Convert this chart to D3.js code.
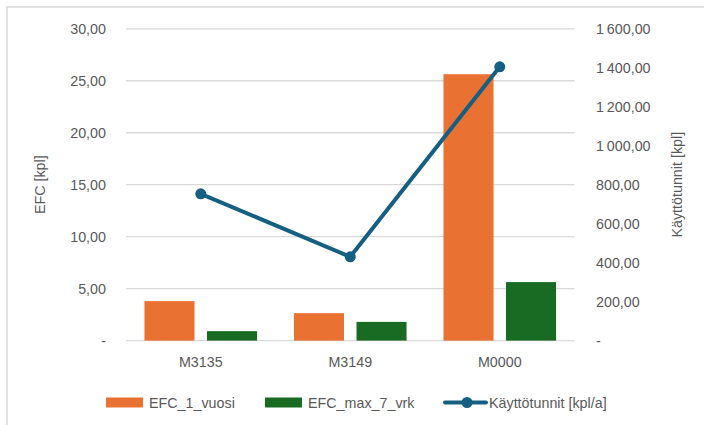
<!DOCTYPE html>
<html><head><meta charset="utf-8">
<script src="https://cdn.jsdelivr.net/npm/d3@7"></script>
<style>
html,body{margin:0;padding:0;background:#fff;}
svg{display:block;font-family:"Liberation Sans",Arial,sans-serif;}
</style></head>
<body>
<svg id="chart" width="704" height="425"></svg>
<script>
const categories = ["M3135", "M3149", "M0000"];
const efc1Vuosi = [3.80, 2.64, 25.63];
const efcMax7Vrk = [0.91, 1.80, 5.63];
const kayttotunnit = [753, 430, 1405];
const leftTicks = [0, 5, 10, 15, 20, 25, 30];
const rightTicks = [0, 200, 400, 600, 800, 1000, 1200, 1400, 1600];
const seriesNames = ["EFC_1_vuosi", "EFC_max_7_vrk", "Käyttötunnit [kpl/a]"];
const colors = ["#E97132", "#196B24", "#156082"];

const svg = d3.select("#chart");
const textColor = "#595959";
const fontSize = 14.3;
const fontFamily = '"Liberation Sans",Arial,sans-serif';
const plot = {left: 126, right: 574.5, top: 28.8, bottom: 340.6};

// outer border
svg.append("rect").attr("x", 7).attr("y", 7).attr("width", 720).attr("height", 440)
  .attr("fill", "none").attr("stroke", "#d9d9d9").attr("stroke-width", 1.5);

const x = d3.scaleBand().domain(categories).range([plot.left, plot.right]).padding(0);
const xInner = d3.scaleBand().domain([0, 1]).range([0, x.bandwidth()]).paddingInner(0.2).paddingOuter(0.295);
const yL = d3.scaleLinear().domain([0, 30]).range([plot.bottom, plot.top]);
const yR = d3.scaleLinear().domain([0, 1600]).range([plot.bottom, plot.top]);

const loc = d3.formatLocale({decimal: ",", thousands: "\u2009", grouping: [3], currency: ["", ""]});
const fmt = loc.format(",.2f");
const tickFmt = v => v === 0 ? "-" : fmt(v);

// gridlines
svg.append("g").selectAll("line").data(leftTicks).join("line")
  .attr("x1", plot.left).attr("x2", plot.right)
  .attr("y1", d => yL(d)).attr("y2", d => yL(d))
  .attr("stroke", "#d9d9d9").attr("stroke-width", 1.3);

// left axis
const axL = svg.append("g").attr("transform", `translate(${plot.left},0)`)
  .call(d3.axisLeft(yL).tickValues(leftTicks).tickFormat(tickFmt).tickSize(0).tickPadding(20));
axL.select(".domain").remove();
axL.selectAll("text").attr("fill", textColor).style("font-size", fontSize + "px").style("font-family", fontFamily);

// right axis
const axR = svg.append("g").attr("transform", `translate(${plot.right},0)`)
  .call(d3.axisRight(yR).tickValues(rightTicks).tickFormat(tickFmt).tickSize(0).tickPadding(21.5));
axR.select(".domain").remove();
axR.selectAll("text").attr("fill", textColor).style("font-size", fontSize + "px").style("font-family", fontFamily);

// x axis labels
svg.append("g").selectAll("text").data(categories).join("text")
  .attr("x", d => x(d) + x.bandwidth() / 2).attr("y", 367)
  .attr("text-anchor", "middle").attr("fill", textColor).style("font-size", fontSize + "px")
  .text(d => d);

// axis titles
const midY = (plot.top + plot.bottom) / 2;
svg.append("text").attr("transform", `translate(45,${midY}) rotate(-90)`)
  .attr("text-anchor", "middle").attr("fill", textColor).style("font-size", fontSize + "px").text("EFC [kpl]");
svg.append("text").attr("transform", `translate(682,${midY}) rotate(-90)`)
  .attr("text-anchor", "middle").attr("fill", textColor).style("font-size", fontSize + "px").text("Käyttötunnit [kpl]");

// bars
const barSeries = [efc1Vuosi, efcMax7Vrk];
barSeries.forEach((vals, si) => {
  svg.append("g").selectAll("rect").data(categories).join("rect")
    .attr("x", (d) => x(d) + xInner(si))
    .attr("width", xInner.bandwidth())
    .attr("y", (d, i) => yL(vals[i]))
    .attr("height", (d, i) => plot.bottom - yL(vals[i]))
    .attr("fill", colors[si]);
});

// line
const lineData = categories.map((c, i) => [x(c) + x.bandwidth() / 2, yR(kayttotunnit[i])]);
svg.append("path").datum(lineData).attr("d", d3.line())
  .attr("fill", "none").attr("stroke", colors[2]).attr("stroke-width", 4).attr("stroke-linejoin", "round");
svg.append("g").selectAll("circle").data(lineData).join("circle")
  .attr("cx", d => d[0]).attr("cy", d => d[1]).attr("r", 5.5).attr("fill", colors[2]);

// legend
const legY = 402.5;
const legend = svg.append("g");
const items = [
  {x: 106, type: "rect"},
  {x: 265, type: "rect"},
  {x: 445, type: "line"}
];
items.forEach((it, i) => {
  const g = legend.append("g");
  if (it.type === "rect") {
    g.append("rect").attr("x", it.x).attr("y", legY - 5).attr("width", 37).attr("height", 10).attr("fill", colors[i]);
    g.append("text").attr("x", it.x + 43).attr("y", legY + 5).attr("fill", textColor).style("font-size", fontSize + "px").text(seriesNames[i]);
  } else {
    g.append("line").attr("x1", it.x).attr("x2", it.x + 41).attr("y1", legY).attr("y2", legY)
      .attr("stroke", colors[i]).attr("stroke-width", 4).attr("stroke-linecap", "round");
    g.append("circle").attr("cx", it.x + 22).attr("cy", legY).attr("r", 5.5).attr("fill", colors[i]);
    g.append("text").attr("x", it.x + 44).attr("y", legY + 5).attr("fill", textColor).style("font-size", fontSize + "px").text(seriesNames[i]);
  }
});
</script>
</body></html>
